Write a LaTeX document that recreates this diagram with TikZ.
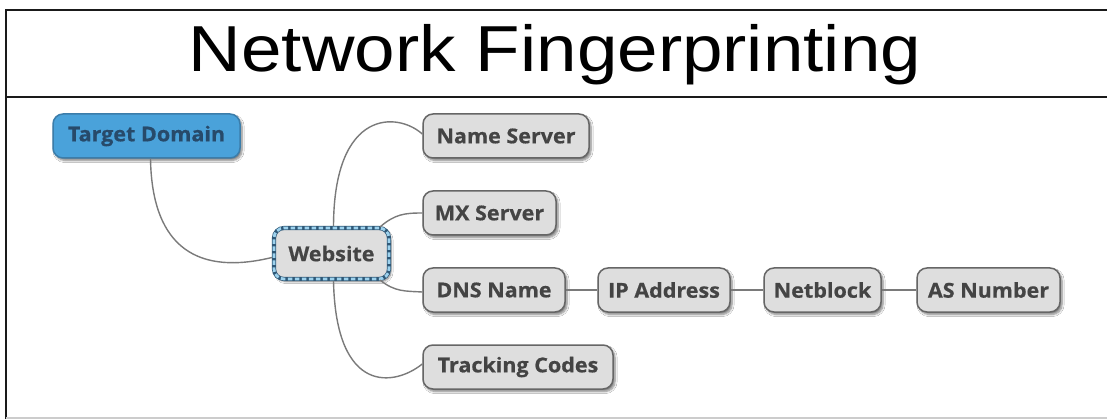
\documentclass[tikz,border=0pt]{standalone}
\usepackage{fontspec}
\setmainfont{Liberation Sans}
\newfontfamily\titlefont[FakeStretch=1.12]{Liberation Sans}
\newfontfamily\boxfont[FakeStretch=1.05, BoldFeatures={FakeBold=0.6}]{Open Sans}
\usetikzlibrary{shadows.blur,calc}
\definecolor{framegray}{HTML}{1A1A1A}
\definecolor{linkgray}{HTML}{7A7A7A}
\definecolor{boxfill}{HTML}{DEDEDE}
\definecolor{boxline}{HTML}{666666}
\definecolor{boxtext}{HTML}{444444}
\definecolor{rootfill}{HTML}{4AA2DA}
\definecolor{rootline}{HTML}{3B7DAA}
\definecolor{roottext}{HTML}{274A6A}
\definecolor{webline}{HTML}{2F5877}
\definecolor{webdash}{HTML}{9DD2EE}
\tikzset{
  topic/.style={rounded corners=10pt, inner sep=0pt, minimum height=44pt,
    fill=boxfill, draw=boxline, line width=1.5pt, text=boxtext,
    font=\boxfont\bfseries\fontsize{20.5}{24}\selectfont,
    blur shadow={shadow xshift=2pt, shadow yshift=-2.5pt, shadow blur steps=6, shadow opacity=50}},
  root/.style={topic, fill=rootfill, draw=rootline, text=roottext},
  hub/.style={topic, draw=webline, line width=4.2pt,
    postaction={draw=webdash, line width=2.8pt, dash pattern=on 4.5pt off 2.5pt}},
  link/.style={draw=linkgray, line width=1.4pt},
}
\begin{document}
\begin{tikzpicture}[x=1pt, y=-1pt]
  \useasboundingbox (0,0) rectangle (1107,419);
  \fill[white] (0,0) rectangle (1107,419);
  % frame and title strip
  \draw[framegray, line width=2.6pt] (6,419) -- (6,10) -- (1107,10);
  \draw[framegray, line width=2.6pt] (6,97) -- (1107,97);
  \draw[black!20, line width=1.2pt] (6,418) -- (1107,418);
  \node[anchor=base, font=\titlefont\fontsize{65}{70}\selectfont] (title) at (555,72) {Network Fingerprinting};

  % topic boxes
  \node[root, minimum width=187pt] (td) at (146.5,136) {Target Domain};
  \node[hub, minimum width=115pt, minimum height=51pt] (web) at (331.5,253.5) {Website};
  \node[topic, minimum width=166pt] (ns) at (506,136) {Name Server};
  \node[topic, minimum width=133pt] (mx) at (489.5,213) {MX Server};
  \node[topic, minimum width=142pt] (dns) at (494,290) {DNS Name};
  \node[topic, minimum width=132pt] (ip) at (664,290) {IP Address};
  \node[topic, minimum width=117pt] (nb) at (822.5,290) {Netblock};
  \node[topic, minimum width=143pt] (as) at (988.5,290) {AS Number};
  \node[topic, minimum width=190pt] (tc) at (518,367) {Tracking Codes};

  % connectors
  \draw[link] ($(td.south)+(4,0)$) .. controls (152,250) and (200,275) .. ($(web.west)+(0,4)$);
  \draw[link] ($(web.north)+(2,0)$) .. controls (334,108) and (398,112) .. ($(ns.west)+(0,-2)$);
  \draw[link] ($(web.north east)+(-11,1)$) .. controls (395,214) and (405,213) .. (mx.west);
  \draw[link] ($(web.south east)+(-11,-1)$) .. controls (395,292) and (405,291) .. ($(dns.west)+(0,2)$);
  \draw[link] ($(web.south)+(2,0)$) .. controls (336,396) and (395,386) .. ($(tc.west)+(0,-3)$);
  \draw[link] (dns) -- (ip);
  \draw[link] (ip) -- (nb);
  \draw[link] (nb) -- (as);
\end{tikzpicture}
\end{document}
